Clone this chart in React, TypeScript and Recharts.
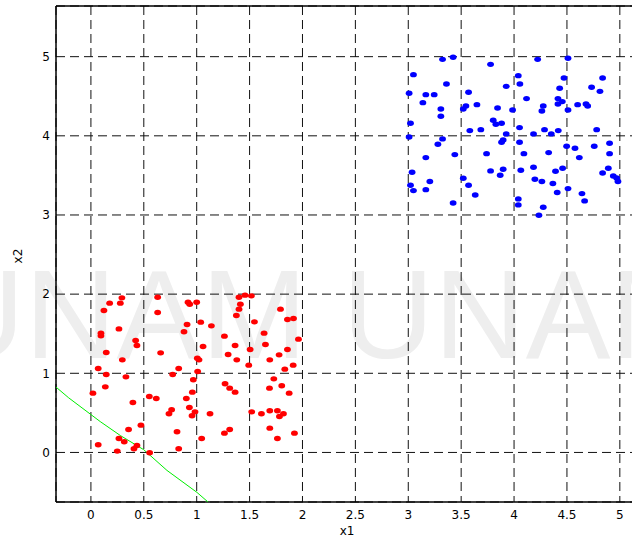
import React from 'react';
import { ScatterChart, Scatter, XAxis, YAxis, CartesianGrid, ReferenceLine } from 'recharts';

// class 1 samples (x1, x2)
const redPoints: [number, number][] = [
  [0.293, 1.953], [0.177, 1.886], [0.278, 1.886], [0.123, 1.793], [0.631, 1.961],
  [0.631, 1.768], [0.918, 1.898], [0.934, 1.873], [1.0, 1.898], [1.4, 1.961],
  [1.457, 1.987], [1.517, 1.978], [1.413, 1.873], [1.4, 1.81], [1.375, 1.73],
  [1.792, 1.81], [1.915, 1.692], [1.858, 1.679], [1.038, 1.646], [1.139, 1.599],
  [0.909, 1.616], [1.546, 1.65], [0.265, 1.561], [0.88, 1.524], [0.095, 1.507],
  [0.095, 1.473], [1.262, 1.469], [0.423, 1.414], [0.435, 1.351], [1.06, 1.338],
  [1.363, 1.351], [1.637, 1.507], [1.65, 1.364], [1.962, 1.431], [1.505, 1.3],
  [1.858, 1.3], [0.145, 1.263], [0.659, 1.258], [1.297, 1.237], [1.779, 1.233],
  [1.006, 1.191], [1.022, 1.17], [0.297, 1.17], [1.379, 1.17], [1.691, 1.17],
  [1.912, 1.103], [1.492, 1.103], [0.069, 1.061], [0.83, 1.061], [1.833, 1.052],
  [1.009, 1.023], [0.145, 0.985], [0.773, 0.985], [0.331, 0.955], [1.729, 0.93],
  [0.968, 0.918], [1.268, 0.867], [0.136, 0.829], [1.312, 0.812], [1.688, 0.812],
  [1.804, 0.842], [0.019, 0.749], [0.959, 0.762], [1.363, 0.762], [1.874, 0.749],
  [0.552, 0.707], [0.618, 0.682], [0.902, 0.682], [0.397, 0.631], [0.931, 0.568],
  [0.763, 0.539], [0.738, 0.488], [0.984, 0.513], [0.956, 0.463], [1.126, 0.488],
  [1.52, 0.513], [1.612, 0.488], [1.691, 0.526], [1.763, 0.526], [1.782, 0.455],
  [1.82, 0.488], [0.473, 0.345], [0.356, 0.29], [0.814, 0.261], [1.262, 0.244],
  [1.312, 0.29], [1.691, 0.307], [1.924, 0.244], [0.265, 0.177], [0.315, 0.135],
  [1.047, 0.177], [1.763, 0.177], [0.069, 0.097], [0.435, 0.088], [0.407, 0.046],
  [0.83, 0.046], [0.249, 0.017], [0.555, -0.004],
];

// class 2 samples (x1, x2)
const bluePoints: [number, number][] = [
  [3.324, 4.966], [3.424, 4.992], [3.778, 4.903], [4.223, 4.966], [4.51, 4.979],
  [3.049, 4.773], [4.04, 4.76], [4.055, 4.655], [4.472, 4.731], [4.837, 4.731],
  [3.361, 4.655], [3.926, 4.625], [4.431, 4.6], [4.733, 4.613], [4.812, 4.562],
  [3.008, 4.537], [3.166, 4.52], [3.245, 4.52], [3.57, 4.55], [4.118, 4.47],
  [4.415, 4.47], [4.456, 4.432], [4.415, 4.402], [3.138, 4.419], [3.545, 4.377],
  [3.52, 4.339], [3.649, 4.394], [3.844, 4.352], [3.986, 4.327], [4.276, 4.377],
  [4.263, 4.314], [4.51, 4.327], [4.601, 4.394], [4.68, 4.402], [4.696, 4.377],
  [3.308, 4.339], [3.308, 4.247], [3.803, 4.196], [3.828, 4.146], [3.882, 4.158],
  [3.021, 4.158], [3.582, 4.066], [3.686, 4.078], [4.052, 4.104], [4.288, 4.078],
  [4.418, 4.066], [4.781, 4.078], [3.926, 4.024], [4.184, 4.024], [4.352, 4.024],
  [3.008, 3.986], [3.324, 3.961], [3.28, 3.893], [3.897, 3.948], [3.882, 3.918],
  [4.052, 3.918], [4.903, 3.906], [4.497, 3.868], [4.576, 3.843], [4.758, 3.868],
  [3.166, 3.725], [3.44, 3.763], [3.74, 3.775], [4.093, 3.775], [4.327, 3.788],
  [4.903, 3.775], [4.617, 3.725], [3.897, 3.577], [4.064, 3.565], [4.184, 3.603],
  [4.459, 3.59], [4.891, 3.59], [3.036, 3.54], [3.778, 3.557], [3.869, 3.502],
  [4.392, 3.552], [4.837, 3.531], [4.938, 3.493], [4.97, 3.468], [4.982, 3.422],
  [3.204, 3.422], [3.52, 3.464], [4.197, 3.451], [4.263, 3.422], [4.367, 3.397],
  [3.021, 3.375], [3.049, 3.308], [3.166, 3.32], [3.57, 3.375], [3.633, 3.253],
  [4.408, 3.283], [4.51, 3.333], [4.642, 3.27], [4.667, 3.178], [3.424, 3.152],
  [4.04, 3.203], [4.04, 3.127], [4.276, 3.098], [4.235, 2.997],
];

// decision boundary
const boundary: [number, number][] = [
  [-0.33, 0.826], [-0.21, 0.69], [0.088, 0.39], [0.277, 0.215], [0.5, 0.034],
  [0.719, -0.227], [1.003, -0.505], [1.107, -0.626],
];

const xTicks = [0, 0.5, 1, 1.5, 2, 2.5, 3, 3.5, 4, 4.5, 5];
const yTicks = [0, 1, 2, 3, 4, 5];

const X_MIN = -0.33;
const X_MAX = 5.2;
const Y_MIN = -0.626;
const Y_MAX = 5.64;

const toData = (pts: [number, number][]) => pts.map(([x, y]) => ({ x, y }));

const dot = (color: string) => (props: any) => (
  <ellipse cx={props.cx} cy={props.cy} rx={3.4} ry={2.7} fill={color} />
);

const tickStyle = { fontFamily: 'DejaVu Sans, Arial, sans-serif', fontSize: 12, fill: '#000' };

export default function App() {
  return (
    <div style={{ position: 'absolute', left: 0, top: 0, width: 632, height: 538, overflow: 'hidden', background: '#fff' }}>
      <svg width={632} height={538} style={{ position: 'absolute', left: 0, top: 0 }}>
        <text x={-67} y={358} fontFamily="Liberation Sans, Arial, sans-serif" fontSize={127} fill="#eeeeee">
          UNAM UNAM
        </text>
        <text x={347} y={535} textAnchor="middle" fontFamily="DejaVu Sans, Arial, sans-serif" fontSize={12} fill="#000">
          x1
        </text>
        <text
          x={22}
          y={256}
          textAnchor="middle"
          transform="rotate(-90 22 256)"
          fontFamily="DejaVu Sans, Arial, sans-serif"
          fontSize={12}
          fill="#000"
        >
          x2
        </text>
      </svg>
      <div style={{ position: 'absolute', left: 0, top: 0 }}>
        <ScatterChart width={651} height={538} margin={{ top: 6, right: 10, bottom: 6, left: 0 }}>
          <CartesianGrid stroke="#111" strokeDasharray="9 5" />
          <XAxis
            type="number"
            dataKey="x"
            domain={[X_MIN, X_MAX]}
            ticks={xTicks}
            allowDataOverflow
            height={30}
            tickLine={false}
            tickSize={6}
            axisLine={{ stroke: '#000', strokeWidth: 1.5 }}
            tick={tickStyle}
            interval={0}
          />
          <YAxis
            type="number"
            dataKey="y"
            domain={[Y_MIN, Y_MAX]}
            ticks={yTicks}
            allowDataOverflow
            width={56}
            tickLine={false}
            tickSize={4}
            axisLine={{ stroke: '#000', strokeWidth: 1.5 }}
            tick={tickStyle}
            interval={0}
          />
          <ReferenceLine y={Y_MAX} stroke="#000" strokeWidth={1.5} />
          <Scatter
            data={toData(boundary)}
            line={{ stroke: '#00ee00', strokeWidth: 1 }}
            shape={() => <g />}
            isAnimationActive={false}
          />
          <Scatter data={toData(redPoints)} shape={dot('#ff0000')} isAnimationActive={false} />
          <Scatter data={toData(bluePoints)} shape={dot('#0000ff')} isAnimationActive={false} />
        </ScatterChart>
      </div>
    </div>
  );
}
